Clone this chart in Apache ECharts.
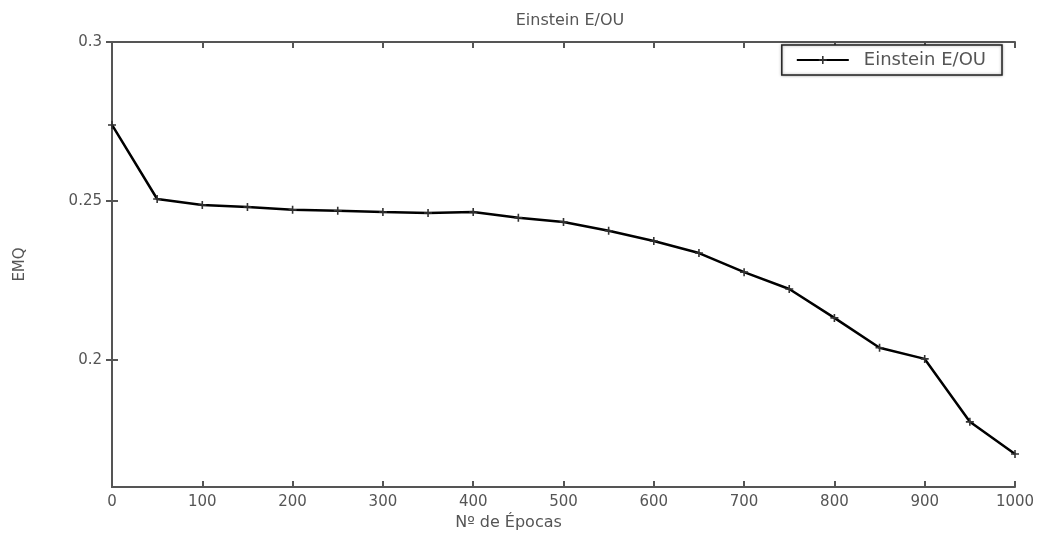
<!DOCTYPE html>
<html>
<head>
<meta charset="utf-8">
<script src="https://cdn.jsdelivr.net/npm/echarts@6/dist/echarts.min.js"></script>
<style>html,body{margin:0;padding:0;background:#fff}#c{width:1047px;height:533px}</style>
</head>
<body>
<div id="c"></div>
<script>
const epochs = [0,50,100,150,200,250,300,350,400,450,500,550,600,650,700,750,800,850,900,950,1000];
const emq = [0.2739,0.2506,0.2487,0.2481,0.2472,0.2469,0.2465,0.2462,0.2465,0.2447,0.2434,0.2406,0.2374,0.2336,0.2276,0.2223,0.2132,0.2038,0.2003,0.1805,0.1704];
const xTicks = [0,100,200,300,400,500,600,700,800,900,1000];
const yTicks = [0.2,0.25,0.3];
const seriesName = 'Einstein E/OU';

const font = 'DejaVu Sans';
const txt = '#555';
const axisCol = '#555';
const chart = echarts.init(document.getElementById('c'));
const plus = 'path://M4,0h2v10h-2zM0,4h10v2h-10z';
chart.setOption({
  animation: false,
  title: {text: 'Einstein E/OU', left: 565, top: 8, textAlign: 'center',
    textStyle: {fontFamily: font, fontSize: 16, fontWeight: 'normal', color: txt}},
  legend: {right: 45, top: 45, itemWidth: 52, itemHeight: 10, itemGap: 10,
    padding: [6, 16, 6, 14], borderColor: '#222', borderWidth: 1.5,
    shadowColor: 'rgba(0,0,0,0.35)', shadowOffsetX: 0, shadowOffsetY: 0, shadowBlur: 3,
    backgroundColor: '#fff',
    textStyle: {fontFamily: font, fontSize: 18, color: txt, padding: [0,0,0,10]},
    data: [seriesName]},
  grid: {left: 112, right: 32, top: 42, bottom: 46, outerBoundsMode: 'none', containLabel: false},
  xAxis: [{type: 'value', min: 0, max: 1000, interval: 100,
    name: 'Nº de Épocas', nameLocation: 'middle', nameGap: 27,
    nameTextStyle: {fontFamily: font, fontSize: 16, color: txt, padding: [0, 110, 0, 0]},
    axisLine: {show: true, lineStyle: {color: axisCol, width: 2}},
    axisTick: {inside: true, length: 6, lineStyle: {color: axisCol, width: 2}},
    axisLabel: {fontFamily: font, fontSize: 15, color: txt, margin: 8,
      customValues: xTicks, formatter: v => String(v)},
    splitLine: {show: false}},
   {type: 'value', min: 0, max: 1000, interval: 100, position: 'top',
    axisLine: {show: true, lineStyle: {color: axisCol, width: 2}},
    axisTick: {inside: true, length: 6, lineStyle: {color: axisCol, width: 2}},
    axisLabel: {show: false}, splitLine: {show: false}}],
  yAxis: [{type: 'value', min: 0.16, max: 0.3,
    name: 'EMQ', nameLocation: 'middle', nameGap: 84, nameRotate: 90,
    nameTextStyle: {fontFamily: font, fontSize: 15, color: txt},
    axisLine: {show: true, lineStyle: {color: axisCol, width: 2}},
    axisTick: {inside: true, length: 6, customValues: yTicks, lineStyle: {color: axisCol, width: 2}},
    axisLabel: {fontFamily: font, fontSize: 15, color: txt, margin: 10,
      customValues: yTicks, formatter: v => String(+v.toFixed(2))},
    splitLine: {show: false}},
   {type: 'value', min: 0.16, max: 0.3, position: 'right',
    axisLine: {show: true, lineStyle: {color: axisCol, width: 2}},
    axisTick: {inside: true, length: 6, customValues: yTicks, lineStyle: {color: axisCol, width: 2}},
    axisLabel: {show: false}, splitLine: {show: false}}],
  series: [{name: seriesName, type: 'line', xAxisIndex: 0, yAxisIndex: 0,
    data: epochs.map((e, i) => [e, emq[i]]),
    symbol: plus, symbolSize: 8, showAllSymbol: true,
    lineStyle: {color: '#000', width: 2.5},
    itemStyle: {color: '#333'}}]
});
</script>
</body>
</html>
